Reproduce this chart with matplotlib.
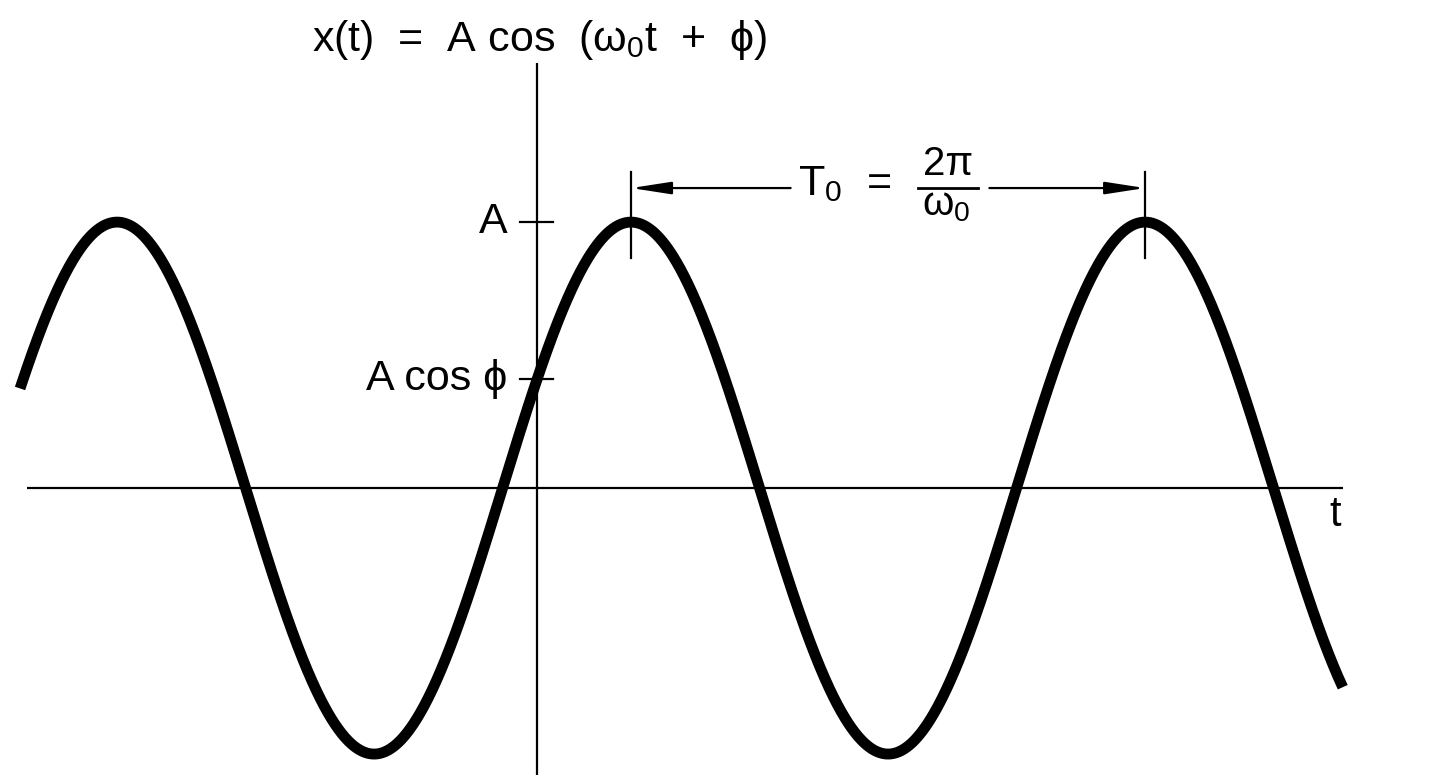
import numpy as np
import matplotlib
matplotlib.use("Agg")
import matplotlib.pyplot as plt

plt.rcParams["font.family"] = ["Liberation Sans", "DejaVu Sans"]
plt.rcParams["mathtext.default"] = "regular"

# signal parameters (omega_0 = 1, so one period is 2*pi)
amplitude = 1.0
omega0 = 1.0
phase = -1.15
t_start, t_end = -6.32, 9.85

# axis extents
t_axis = [-6.24, 9.85]
x_axis = [-1.08, 1.60]

# y-axis ticks and their labels
tick_values = [amplitude, amplitude * np.cos(phase)]
tick_labels = ["A", "A cos ϕ"]

t = np.linspace(t_start, t_end, 2000)
x = amplitude * np.cos(omega0 * t + phase)

fig = plt.figure(figsize=(14.54, 7.82), dpi=100)
ax = fig.add_axes([0, 0, 1, 1])
ax.set_xlim(-6.565, 11.21)
ax.set_ylim(-1.105, 1.835)
ax.axis("off")

# axes
ax.plot(t_axis, [0, 0], color="black", lw=1.6, solid_capstyle="butt")
ax.plot([0, 0], x_axis, color="black", lw=1.6, solid_capstyle="butt")

# the sinusoid
ax.plot(t, x, color="black", lw=7.8, solid_capstyle="butt")

# ticks on the x(t) axis
for val, lab in zip(tick_values, tick_labels):
    ax.plot([-0.21, 0.2], [val, val], color="black", lw=1.6)
    ax.text(-0.36, val, lab, ha="right", va="center", fontsize=31)

# period marker between two peaks
t_peak1 = -phase / omega0
t_peak2 = t_peak1 + 2 * np.pi / omega0
y_arrow = 1.128
for tp in (t_peak1, t_peak2):
    ax.plot([tp, tp], [0.865, 1.19], color="black", lw=1.6)

arrow = dict(arrowstyle="-|>,head_length=1.1,head_width=0.17", color="black",
             lw=1.6, mutation_scale=22, shrinkA=0, shrinkB=0)
ax.annotate("", xy=(t_peak1, y_arrow), xytext=(3.10, y_arrow), arrowprops=arrow)
ax.annotate("", xy=(t_peak2, y_arrow), xytext=(5.53, y_arrow), arrowprops=arrow)

ax.text(3.19, 1.101, "T$_0$  =", ha="left", va="baseline", fontsize=31)
ax.text(5.02, 1.177, "2π", ha="center", va="baseline", fontsize=29)
ax.plot([4.66, 5.39], [y_arrow, y_arrow], color="black", lw=2.0)
ax.text(5.00, 1.026, r"$\omega_0$", ha="center", va="baseline", fontsize=29)

# labels
ax.text(0.03, 1.684, r"x(t)  =  A cos  ($\omega_0$t  +  ϕ)", ha="center",
        va="center", fontsize=31)
ax.text(9.76, -0.10, "t", ha="center", va="center", fontsize=30)

fig.savefig("out.png", dpi=100, facecolor="white")
